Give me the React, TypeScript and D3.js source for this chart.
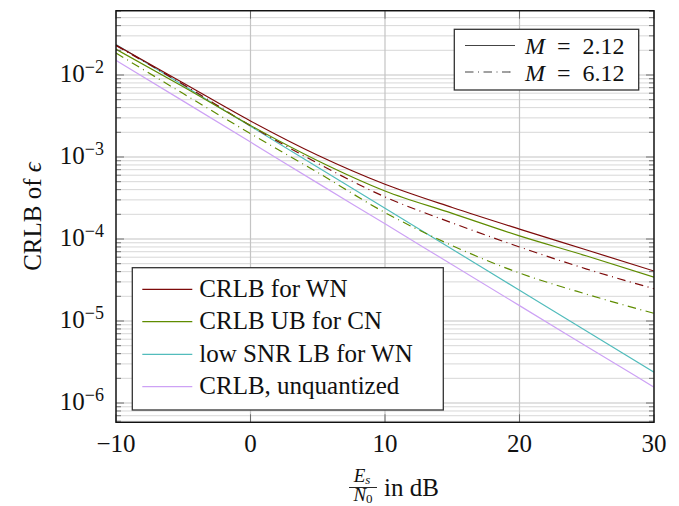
import React from 'react';
import * as d3 from 'd3';

// Es/N0 in dB, sample points
const snrDb = [-10, -5, 0, 5, 10, 15, 20, 25, 30];

// M = 2.12 (solid)
const crlbWnM212 = [2.32e-2, 7.98e-3, 2.75e-3, 1.05e-3, 4.65e-4, 2.42e-4, 1.32e-4, 7.34e-5, 4.07e-5];
const crlbUbCnM212 = [2.06e-2, 7.18e-3, 2.42e-3, 9.0e-4, 3.85e-4, 2.05e-4, 1.09e-4, 6.2e-5, 3.42e-5];
// M = 6.12 (dash-dot)
const crlbWnM612 = [2.29e-2, 7.66e-3, 2.41e-3, 8.38e-4, 3.26e-4, 1.57e-4, 8.0e-5, 4.3e-5, 2.48e-5];
const crlbUbCnM612 = [1.85e-2, 5.93e-3, 1.93e-3, 6.47e-4, 2.1e-4, 8.3e-5, 3.85e-5, 2.12e-5, 1.24e-5];
// low SNR bound and unquantized CRLB
const lowSnrLbWn = [2.36e-2, 7.48e-3, 2.37e-3, 7.5e-4, 2.37e-4, 7.5e-5, 2.37e-5, 7.5e-6, 2.37e-6];
const crlbUnquantized = [1.51e-2, 4.8e-3, 1.52e-3, 4.8e-4, 1.53e-4, 4.85e-5, 1.54e-5, 4.9e-6, 1.56e-6];

const xTicks = [-10, 0, 10, 20, 30];
const yTickExps = [-2, -3, -4, -5, -6];
const legendNames = ['CRLB for WN', 'CRLB UB for CN', 'low SNR LB for WN', 'CRLB, unquantized'];
const legendM = ['2.12', '6.12'];

const W = 679, H = 506;
const box = { left: 116, right: 654, top: 10.7, bottom: 422.3 };

const C_RED = '#7d0a0a';
const C_OLIVE = '#5f8c00';
const C_CYAN = '#52bcbc';
const C_PURPLE = '#cda2f5';
const DASHDOT = '8.5 4.5 1 4.5';

const font = "Liberation Serif, Times New Roman, serif";

const x = d3.scaleLinear().domain([-10, 30]).range([box.left, box.right]);
const y = d3.scaleLog().domain([5.82e-7, 6.08e-2]).range([box.bottom, box.top]);

const line = d3.line<number>()
  .x((_, i) => x(snrDb[i]))
  .y(d => y(d))
  .curve(d3.curveMonotoneX);

const series = [
  { v: crlbUnquantized, c: C_PURPLE, dash: undefined },
  { v: lowSnrLbWn, c: C_CYAN, dash: undefined },
  { v: crlbUbCnM612, c: C_OLIVE, dash: DASHDOT },
  { v: crlbWnM612, c: C_RED, dash: DASHDOT },
  { v: crlbUbCnM212, c: C_OLIVE, dash: undefined },
  { v: crlbWnM212, c: C_RED, dash: undefined },
];

// minor log grid values inside the domain
const minorVals: number[] = [];
for (let e = -7; e <= -2; e++)
  for (let m = 2; m <= 9; m++) {
    const v = m * Math.pow(10, e);
    if (v > y.domain()[0] && v < y.domain()[1]) minorVals.push(v);
  }

export default function App() {
  const leg1 = { x0: 132.3, x1: 443.3, y0: 267.7, y1: 410 };
  const leg1Rows = [289.3, 321.7, 354.3, 386.7];
  const leg1Colors = [C_RED, C_OLIVE, C_CYAN, C_PURPLE];
  const leg2 = { x0: 454.3, x1: 638.7, y0: 29.3, y1: 90 };
  const leg2Rows = [45.5, 72];

  return (
    <svg width={W} height={H} style={{ position: 'absolute', left: 0, top: 0, background: '#fff', fontFamily: font }}>
      <defs>
        <clipPath id="plotclip">
          <rect x={box.left} y={box.top} width={box.right - box.left} height={box.bottom - box.top} />
        </clipPath>
      </defs>

      {/* grid */}
      {minorVals.map((v, i) => (
        <line key={'mg' + i} x1={box.left} x2={box.right} y1={y(v)} y2={y(v)} stroke="#d2d2d2" strokeWidth={0.9} />
      ))}
      {yTickExps.map(e => (
        <line key={'yg' + e} x1={box.left} x2={box.right} y1={y(Math.pow(10, e))} y2={y(Math.pow(10, e))} stroke="#c4c4c4" strokeWidth={1.2} />
      ))}
      {xTicks.map(t => (
        <line key={'xg' + t} x1={x(t)} x2={x(t)} y1={box.top} y2={box.bottom} stroke="#c4c4c4" strokeWidth={1.2} />
      ))}

      {/* curves */}
      <g clipPath="url(#plotclip)" fill="none">
        {series.map((s, i) => (
          <path key={i} d={line(s.v) || ''} stroke={s.c} strokeWidth={1.2} strokeDasharray={s.dash} />
        ))}
      </g>

      {/* ticks */}
      <g stroke="#555" strokeWidth={0.8}>
        {minorVals.map((v, i) => (
          <g key={'mt' + i}>
            <line x1={box.left} x2={box.left + 5} y1={y(v)} y2={y(v)} />
            <line x1={box.right - 5} x2={box.right} y1={y(v)} y2={y(v)} />
          </g>
        ))}
        {yTickExps.map(e => (
          <g key={'yt' + e}>
            <line x1={box.left} x2={box.left + 8} y1={y(Math.pow(10, e))} y2={y(Math.pow(10, e))} />
            <line x1={box.right - 8} x2={box.right} y1={y(Math.pow(10, e))} y2={y(Math.pow(10, e))} />
          </g>
        ))}
        {xTicks.map(t => (
          <g key={'xt' + t}>
            <line x1={x(t)} x2={x(t)} y1={box.bottom} y2={box.bottom - 8} />
            <line x1={x(t)} x2={x(t)} y1={box.top} y2={box.top + 8} />
          </g>
        ))}
      </g>

      {/* axis box */}
      <rect x={box.left} y={box.top} width={box.right - box.left} height={box.bottom - box.top}
        fill="none" stroke="#111" strokeWidth={1.4} />

      {/* tick labels */}
      {xTicks.map(t => (
        <text key={'xl' + t} x={x(t)} y={451.5} fontSize={25} textAnchor="middle" fill="#111">
          {t < 0 ? '\u2212' + Math.abs(t) : t}
        </text>
      ))}
      {yTickExps.map(e => (
        <text key={'yl' + e} x={104} y={y(Math.pow(10, e)) + 7} fontSize={25} textAnchor="end" fill="#111">
          10<tspan fontSize={18} dy={-9}>{'\u2212' + Math.abs(e)}</tspan>
        </text>
      ))}

      {/* axis labels */}
      <text transform={`translate(41,${(box.top + box.bottom) / 2}) rotate(-90)`} fontSize={25}
        textAnchor="middle" fill="#111">
        CRLB of <tspan fontStyle="italic">{'\u03f5'}</tspan>
      </text>
      <g fill="#111">
        <text x={362} y={482} fontSize={19} textAnchor="middle">
          <tspan fontStyle="italic">E</tspan><tspan fontStyle="italic" fontSize={13} dy={2}>s</tspan>
        </text>
        <line x1={349} x2={377} y1={487.5} y2={487.5} stroke="#111" strokeWidth={0.9} />
        <text x={363} y={501} fontSize={19} textAnchor="middle">
          <tspan fontStyle="italic">N</tspan><tspan fontSize={13} dy={2}>0</tspan>
        </text>
        <text x={384} y={496} fontSize={25}>in dB</text>
      </g>

      {/* legend: series */}
      <rect x={leg1.x0} y={leg1.y0} width={leg1.x1 - leg1.x0} height={leg1.y1 - leg1.y0}
        fill="#fff" stroke="#333" strokeWidth={1.3} />
      {legendNames.map((n, i) => (
        <g key={'l1' + i}>
          <line x1={142.3} x2={192.3} y1={leg1Rows[i]} y2={leg1Rows[i]} stroke={leg1Colors[i]} strokeWidth={1.3} />
          <text x={199.3} y={leg1Rows[i] + 7.5} fontSize={25} fill="#111">{n}</text>
        </g>
      ))}

      {/* legend: M */}
      <rect x={leg2.x0} y={leg2.y0} width={leg2.x1 - leg2.x0} height={leg2.y1 - leg2.y0}
        fill="#fff" stroke="#333" strokeWidth={1.3} />
      {legendM.map((m, i) => (
        <g key={'l2' + i}>
          <line x1={465} x2={515} y1={leg2Rows[i]} y2={leg2Rows[i]} stroke="#444" strokeWidth={1.2}
            strokeDasharray={i === 1 ? DASHDOT : undefined} />
          <text x={525} y={leg2Rows[i] + 8.5} fontSize={24} fill="#111">
            <tspan fontStyle="italic">M</tspan>{'\u2002=\u2002' + m}
          </text>
        </g>
      ))}
    </svg>
  );
}
